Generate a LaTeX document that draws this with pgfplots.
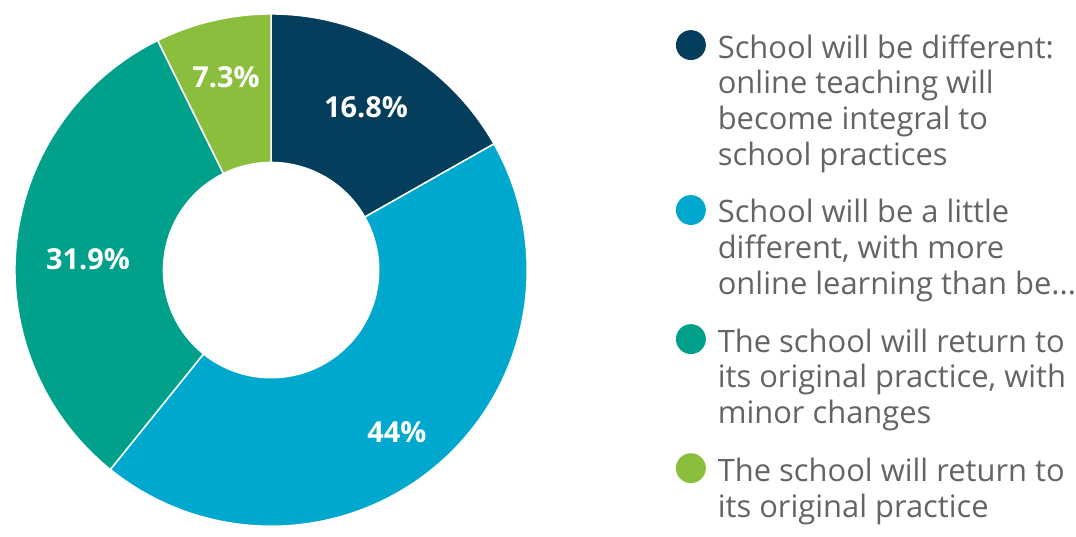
\documentclass[border=0pt]{standalone}
\usepackage{pgfplots}
\pgfplotsset{compat=1.18}
\usepackage{fontspec}
\setmainfont{Open Sans}
\definecolor{c1}{HTML}{043E5C}
\definecolor{c2}{HTML}{00A8CE}
\definecolor{c3}{HTML}{00A08A}
\definecolor{c4}{HTML}{8BBE3C}
\definecolor{lgray}{HTML}{646464}
\def\cx{272}\def\cy{267}\def\R{257}\def\rin{108}
\newcommand\first{\rule{0pt}{28pt}}
\newcommand\last{\rule[-9pt]{0pt}{9pt}}
\tikzset{lbl/.style={text=white, font=\fontsize{29}{32}\selectfont\bfseries, inner sep=0pt}}
% #1 cumulative share before, #2 share, #3 colour, #4 label, #5 label radius, #6 label angle shift, #7 legend text
\newcommand\slice[7]{%
  \pgfmathsetmacro\aS{90-3.6*#1}%
  \pgfmathsetmacro\aE{90-3.6*(#1+#2)}%
  \pgfmathsetmacro\aM{(\aS+\aE)/2+#6}%
  \pgfmathsetmacro\pX{\cx+\rin*cos(\aS)}%
  \pgfmathsetmacro\pY{\cy+\rin*sin(\aS)}%
  \pgfmathsetmacro\lX{\cx+#5*cos(\aM)}%
  \pgfmathsetmacro\lY{\cy+#5*sin(\aM)}%
  \edef\doslice{%
    \noexpand\addplot[fill=#3, draw=white, line width=1.5pt, domain=\aE:\aS, samples=120, variable=\noexpand\t]
      ({\cx+\R*cos(\noexpand\t)},{\cy+\R*sin(\noexpand\t)})
      -- (axis cs:\pX,\pY) arc[start angle=\aS, end angle=\aE, radius=\rin pt] -- cycle;
    \noexpand\node[lbl] at (axis cs:\lX,\lY) {#4};
  }\doslice
  \addlegendentry{#7}%
}
\begin{document}
\begin{tikzpicture}
\begin{axis}[
  x=1pt, y=1pt, xmin=0, xmax=1076, ymin=0, ymax=538,
  hide axis, clip=false,
  legend image code/.code={%
    \path[#1, draw=none] (15pt,-15pt) circle (15pt);},
  legend cell align=left,
  legend style={at={(0.6301,0.9442)}, anchor=north west, draw=none, fill=none,
    inner sep=0pt, row sep=28pt, column sep=12pt,
    font=\fontsize{31}{36}\selectfont, text=lgray,
    nodes={inner sep=0pt, outer sep=0pt, anchor=north west, align=left}},
]
\path (axis cs:0,0) rectangle (axis cs:1076,538);
\slice{0}{16.8}{c1}{16.8\%}{189}{0}{\first School will be different:\\online teaching will\\become integral to\\school practices\last}
\slice{16.8}{44}{c2}{44\%}{206}{-2.5}{\first School will be a little\\different, with more\\online learning than be...\last}
\slice{60.8}{31.9}{c3}{31.9\%}{184}{3}{\first The school will return to\\its original practice, with\\minor changes\last}
\slice{92.7}{7.3}{c4}{7.3\%}{199}{0}{\first The school will return to\\its original practice\last}
\end{axis}
\end{tikzpicture}
\end{document}
